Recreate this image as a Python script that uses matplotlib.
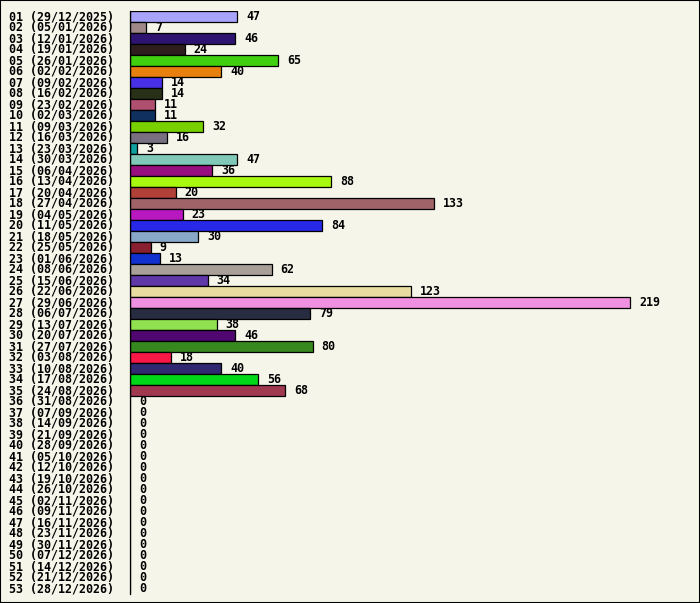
import matplotlib
matplotlib.use("Agg")
import matplotlib.pyplot as plt
import matplotlib.transforms as mtransforms
from matplotlib.patches import Rectangle

weeks = [f"{i:02d}" for i in range(1, 54)]
dates = ["29/12/2025", "05/01/2026", "12/01/2026", "19/01/2026", "26/01/2026",
         "02/02/2026", "09/02/2026", "16/02/2026", "23/02/2026", "02/03/2026",
         "09/03/2026", "16/03/2026", "23/03/2026", "30/03/2026", "06/04/2026",
         "13/04/2026", "20/04/2026", "27/04/2026", "04/05/2026", "11/05/2026",
         "18/05/2026", "25/05/2026", "01/06/2026", "08/06/2026", "15/06/2026",
         "22/06/2026", "29/06/2026", "06/07/2026", "13/07/2026", "20/07/2026",
         "27/07/2026", "03/08/2026", "10/08/2026", "17/08/2026", "24/08/2026",
         "31/08/2026", "07/09/2026", "14/09/2026", "21/09/2026", "28/09/2026",
         "05/10/2026", "12/10/2026", "19/10/2026", "26/10/2026", "02/11/2026",
         "09/11/2026", "16/11/2026", "23/11/2026", "30/11/2026", "07/12/2026",
         "14/12/2026", "21/12/2026", "28/12/2026"]
values = [47, 7, 46, 24, 65, 40, 14, 14, 11, 11, 32, 16, 3, 47, 36, 88, 20, 133,
          23, 84, 30, 9, 13, 62, 34, 123, 219, 79, 38, 46, 80, 18, 40, 56, 68] + [0] * 18
colors = ["#a8a4fc", "#a08888", "#2e1470", "#2e1e1e", "#40d010", "#e88010",
          "#4830e8", "#283018", "#b05070", "#103060", "#78d000", "#787080",
          "#10a0a0", "#80c8b8", "#981080", "#a8f810", "#b04038", "#a06468",
          "#b818c0", "#2828e8", "#88a8c8", "#882030", "#1030d0", "#a8a098",
          "#6038a8", "#e8dca0", "#f090e0", "#282c40", "#90e050", "#500870",
          "#388820", "#f81848", "#302870", "#00d818", "#a03850"] + ["#000000"] * 18

labels = [f"{w} ({d})" for w, d in zip(weeks, dates)]

W, H = 700, 603
bg = "#f5f5ea"
fig = plt.figure(figsize=(W / 100, H / 100), dpi=100, facecolor=bg)

ax_left, ax_right = 130, 690
ax_top, ax_bot = 11, 594
ax = fig.add_axes([ax_left / W, (H - ax_bot) / H, (ax_right - ax_left) / W, (ax_bot - ax_top) / H])
ax.set_facecolor("none")
px_per_unit = 500 / 219
ax.set_xlim(0, (ax_right - ax_left) / px_per_unit)
n = len(values)
ax.set_ylim(n - 0.5, -0.5)

ypos = list(range(n))
ax.barh(ypos, values, height=1.0, color=colors, edgecolor="black", linewidth=0.9)

font = dict(family="DejaVu Sans Mono", weight="bold", size=8.4)
for y, v in zip(ypos, values):
    ax.annotate(str(v), xy=(v, y), xytext=(9 * 0.72, 0), textcoords="offset points",
                ha="left", va="center", color="black", **font)

trans = mtransforms.blended_transform_factory(fig.transFigure, ax.transData)
for y, lab in zip(ypos, labels):
    ax.text(9 / W, y, lab, transform=trans, ha="left", va="center", color="black",
            clip_on=False, **font)

for s in ["top", "right", "bottom"]:
    ax.spines[s].set_visible(False)
ax.spines["left"].set_color("black")
ax.spines["left"].set_linewidth(0.9)
ax.set_xticks([])
ax.set_yticks([])

fig.patches.append(Rectangle((0, 0), 1, 1, transform=fig.transFigure, fill=False,
                             edgecolor="black", linewidth=1.5, zorder=10))

fig.savefig("out.png", dpi=100, facecolor=bg)
